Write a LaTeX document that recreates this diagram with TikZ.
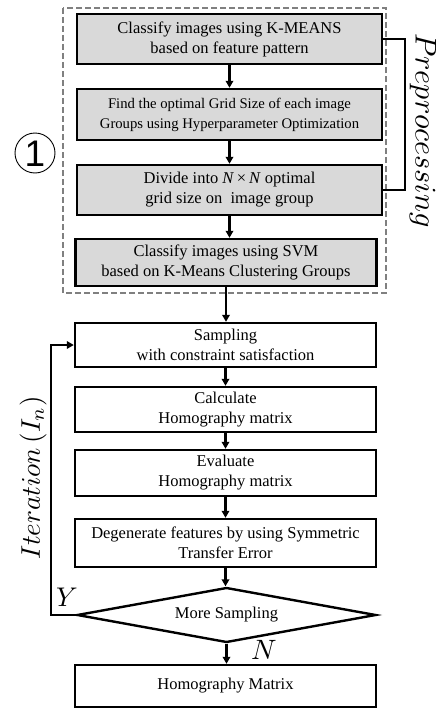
\documentclass[tikz,border=0pt]{standalone}
\usepackage{fontspec}
\setmainfont{Liberation Serif}
\setsansfont{Liberation Sans}
\usetikzlibrary{arrows.meta,shapes.geometric}
\begin{document}
\begin{tikzpicture}[x=1pt,y=-1pt,
  box/.style={draw=black, line width=2.4pt, rectangle, inner sep=0pt, align=center,
    font=\fontsize{16.5}{20}\selectfont},
  pre/.style={box, fill=gray!30},
  arr/.style={line width=2.2pt, -{Triangle[length=7pt,width=7.5pt]}},
  con/.style={line width=2.2pt},
  lbl/.style={inner sep=0pt}
]
\useasboundingbox (0,0) rectangle (440,709);
% preprocessing frame
\draw[dash pattern=on 6pt off 3pt, draw=black!50, line width=1.6pt] (63,8) rectangle (386,293);

\node[pre, minimum width=305pt, minimum height=50pt] (b1) at (229.5,39)
  {Classify images using K-MEANS\\based on feature pattern};
\node[pre, minimum width=305pt, minimum height=51pt, font=\fontsize{14.7}{20}\selectfont] (b2) at (229.5,114.5)
  {Find the optimal Grid Size of each image\\Groups using Hyperparameter Optimization};
\node[pre, minimum width=305pt, minimum height=50pt] (b3) at (229.5,190)
  {Divide into \textit{N}\,×\,\textit{N} optimal\\grid size on\ \ image group};
\node[pre, minimum width=301pt, minimum height=47pt] (b4) at (226,262.5)
  {Classify images using SVM\\based on K-Means Clustering Groups};

\node[box, minimum width=301pt, minimum height=44pt] (s1) at (225.5,345)
  {Sampling\\with constraint satisfaction};
\node[box, minimum width=301pt, minimum height=45pt] (s2) at (225.5,409.5)
  {Calculate\\Homography matrix};
\node[box, minimum width=301pt, minimum height=46pt] (s3) at (225.5,473)
  {Evaluate\\Homography matrix};
\node[box, minimum width=301pt, minimum height=48pt] (s4) at (225.5,543)
  {Degenerate features by using Symmetric\\Transfer Error};
\node[box, diamond, shape aspect=5.4, minimum width=299pt, minimum height=55pt] (dm) at (226.5,615)
  {More Sampling};
\node[box, minimum width=301pt, minimum height=42pt] (hm) at (225.5,686)
  {Homography Matrix};

% arrows
\draw[arr] (b1.south) -- (b1.south |- b2.north);
\draw[arr] (b2.south) -- (b2.south |- b3.north);
\draw[arr] (b3.south) -- (b3.south |- b4.north);
\draw[arr] (b4.south) -- (b4.south |- s1.north);
\draw[arr] (s1.south) -- (s2.north);
\draw[arr] (s2.south) -- (s3.north);
\draw[arr] (s3.south) -- (s4.north);
\draw[arr] (s4.south) -- (s4.south |- dm.north);
\draw[arr] (dm.south) -- (dm.south |- hm.north);
\draw[arr] (dm.west) -- ++(-25,0) |- (s1.west);
% bracket
\draw[con] (b1.east) -- ++(22,0) |- (b3.east);

% labels
\node[lbl, rotate=-90, anchor=west] (pp) at (423,33) {\scalebox{3.0}{$Preprocessing$}};
\node[lbl, rotate=90, anchor=west] (it) at (33,560) {\scalebox{2.7}{$Iteration\,(I_n)$}};
\node[lbl] (ly) at (67,597) {\scalebox{2.7}{$Y$}};
\node[lbl] (ln) at (264,650) {\scalebox{2.8}{$N$}};
\node[draw=black, line width=0.9pt, circle, minimum size=40pt, inner sep=0pt] (c1) at (35,153) {};
\node[lbl, font=\sffamily\fontsize{37}{37}\selectfont] (one) at (35,154) {1};
\end{tikzpicture}
\end{document}
